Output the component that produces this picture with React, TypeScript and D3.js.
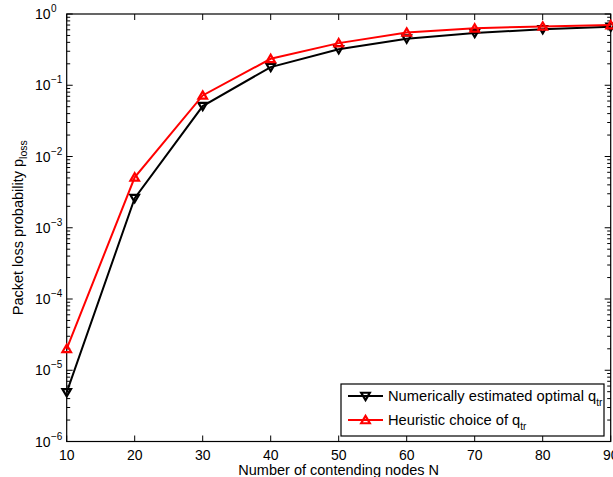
import React from "react";
import * as d3 from "d3";

const nodes = [10, 20, 30, 40, 50, 60, 70, 80, 90];
const numericalLoss = [4.9e-6, 2.6e-3, 0.051, 0.18, 0.32, 0.45, 0.54, 0.61, 0.66];
const heuristicLoss = [2.0e-5, 5.1e-3, 0.072, 0.235, 0.39, 0.55, 0.63, 0.67, 0.70];
const xTicks = [10, 20, 30, 40, 50, 60, 70, 80, 90];
const yExponents = [-6, -5, -4, -3, -2, -1, 0];

const W = 613, H = 477;
const L = 66.7, R = 610.7, T = 14, B = 441.5;
const FONT = "Arial, 'Liberation Sans', Helvetica, sans-serif";

export default function App() {
  const x = d3.scaleLinear().domain([10, 90]).range([L, R]);
  const y = d3.scaleLog().domain([1e-6, 1]).range([B, T]);
  const line = d3.line<number>().x((_, i) => x(nodes[i])).y((d) => y(d));

  const minor: number[] = [];
  for (let e = -6; e < 0; e++) for (let k = 2; k <= 9; k++) minor.push(k * Math.pow(10, e));

  const tri = (cx: number, cy: number, up: boolean, s = 4.3) => {
    const h = s * 0.95;
    return up
      ? `M${cx},${cy - h} L${cx + s},${cy + h * 0.8} L${cx - s},${cy + h * 0.8} Z`
      : `M${cx},${cy + h} L${cx + s},${cy - h * 0.8} L${cx - s},${cy - h * 0.8} Z`;
  };

  const series = [
    { data: numericalLoss, color: "#000000", up: false },
    { data: heuristicLoss, color: "#ff0000", up: true },
  ];

  const legX = 341, legY = 384, legW = 263, legH = 52;

  return (
    <svg width={W} height={H} style={{ position: "absolute", left: 0, top: 0, background: "#fff" }} fontFamily={FONT}>
      <rect x={0} y={0} width={W} height={H} fill="#fff" />
      {/* minor y ticks */}
      {minor.map((v, i) => (
        <g key={"m" + i} stroke="#000" strokeWidth={1}>
          <line x1={L} x2={L + 3.5} y1={y(v)} y2={y(v)} />
          <line x1={R} x2={R - 3.5} y1={y(v)} y2={y(v)} />
        </g>
      ))}
      {/* major y ticks */}
      {yExponents.map((e) => (
        <g key={"y" + e}>
          <line x1={L} x2={L + 6} y1={y(Math.pow(10, e))} y2={y(Math.pow(10, e))} stroke="#000" />
          <line x1={R} x2={R - 6} y1={y(Math.pow(10, e))} y2={y(Math.pow(10, e))} stroke="#000" />
          <text x={50.5} y={y(Math.pow(10, e)) + 5} fontSize={14} textAnchor="end">10</text>
          <text x={51} y={y(Math.pow(10, e)) - 2} fontSize={10} textAnchor="start">
            {e === 0 ? "0" : "\u2212" + Math.abs(e)}
          </text>
        </g>
      ))}
      {/* x ticks */}
      {xTicks.map((t) => (
        <g key={"x" + t}>
          <line x1={x(t)} x2={x(t)} y1={B} y2={B - 6} stroke="#000" />
          <line x1={x(t)} x2={x(t)} y1={T} y2={T + 6} stroke="#000" />
          <text x={x(t)} y={459.5} fontSize={14} textAnchor="middle">{t}</text>
        </g>
      ))}
      {/* axes box */}
      <rect x={L} y={T} width={R - L} height={B - T} fill="none" stroke="#000" strokeWidth={1.2} />
      {/* series */}
      {series.map((s, si) => (
        <g key={"s" + si}>
          <path d={line(s.data) || ""} fill="none" stroke={s.color} strokeWidth={2} strokeLinejoin="miter" />
          {s.data.map((v, i) => (
            <path key={i} d={tri(x(nodes[i]), y(v), s.up)} fill="none" stroke={s.color} strokeWidth={2.2} />
          ))}
        </g>
      ))}
      {/* legend */}
      <rect x={legX} y={legY} width={legW} height={legH} fill="#fff" stroke="#000" strokeWidth={1.2} />
      {series.map((s, si) => {
        const ly = legY + 12 + si * 24;
        const label = si === 0 ? "Numerically estimated optimal q" : "Heuristic choice of q";
        return (
          <g key={"l" + si}>
            <line x1={348} x2={383} y1={ly} y2={ly} stroke={s.color} strokeWidth={2} />
            <path d={tri(365.5, ly, s.up)} fill="none" stroke={s.color} strokeWidth={2.2} />
            <text x={388} y={ly + 5} fontSize={14.7}>
              {label}
              <tspan fontSize={10} dy={5}>tr</tspan>
            </text>
          </g>
        );
      })}
      {/* axis labels */}
      <text x={(L + R) / 2} y={475} fontSize={14.5} textAnchor="middle">Number of contending nodes N</text>
      <text transform={`translate(22.5, ${(T + B) / 2}) rotate(-90)`} fontSize={14.5} textAnchor="middle">
        Packet loss probability p<tspan fontSize={10.5} dy={4}>loss</tspan>
      </text>
    </svg>
  );
}
